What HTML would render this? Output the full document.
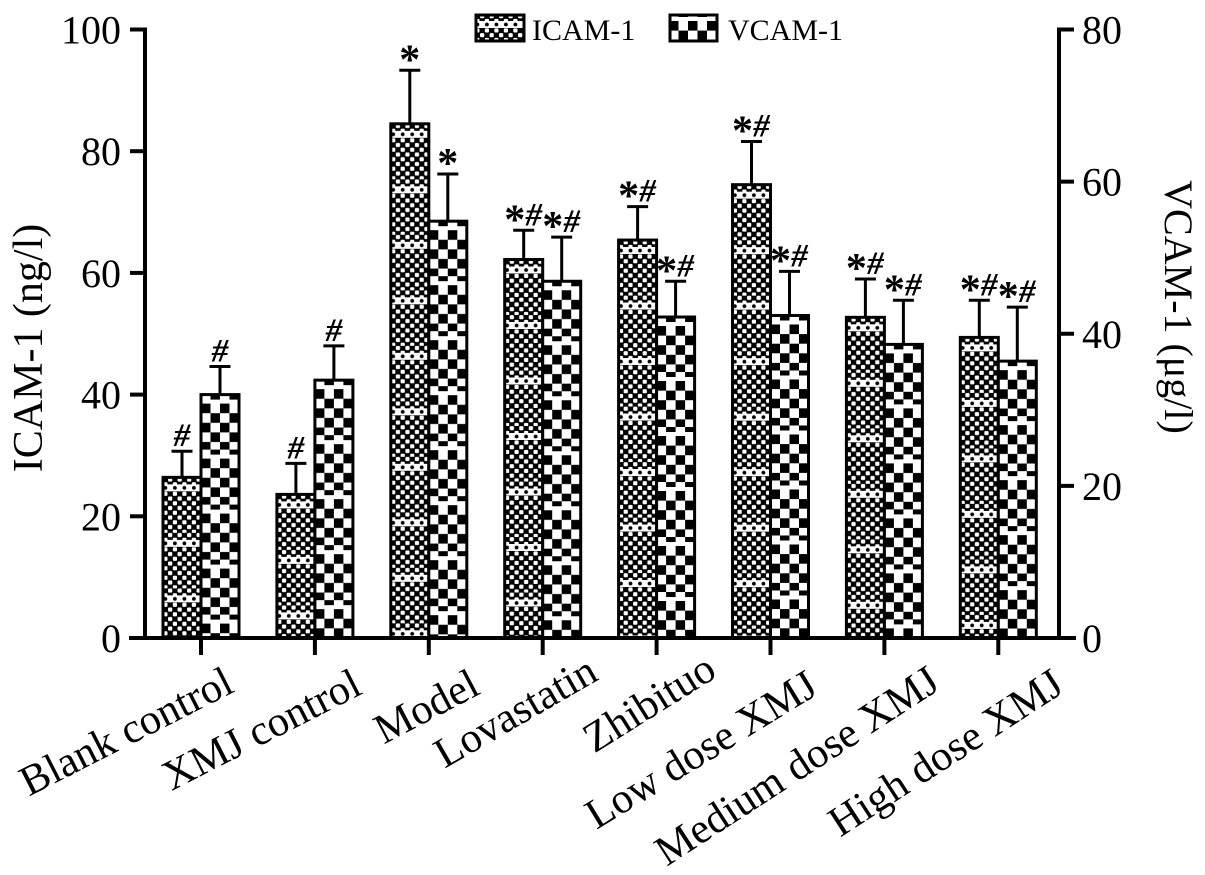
<!DOCTYPE html>
<html lang="en">
<head>
<meta charset="utf-8">
<title>ICAM-1 and VCAM-1 levels</title>
<style>
html,body{margin:0;padding:0;background:#fff;}
svg{display:block;}
text{font-family:"Liberation Serif",serif;fill:#000;}
</style>
</head>
<body>
<svg id="chart" xmlns="http://www.w3.org/2000/svg" width="1205" height="875" viewBox="0 0 1205 875">
<defs id="defs"></defs>
<rect x="0" y="0" width="1205" height="875" fill="#fff"/>
</svg>
<script>
const categories = ['Blank control','XMJ control','Model','Lovastatin','Zhibituo','Low dose XMJ','Medium dose XMJ','High dose XMJ'];
const icamValues = [26.4,23.6,84.5,62.2,65.4,74.5,52.7,49.4];
const icamErrors = [4.3,5.1,8.8,4.8,5.5,7.1,6.3,6.1];
const vcamValues = [32.0,33.9,54.8,46.9,42.2,42.4,38.6,36.4];
const vcamErrors = [3.7,4.5,6.2,5.8,4.7,5.8,5.8,7.1];
const icamMarks = ['#','#','*','*#','*#','*#','*#','*#'];
const vcamMarks = ['#','#','*','*#','*#','*#','*#','*#'];
const leftTicks = [0,20,40,60,80,100];
const rightTicks = [0,20,40,60,80];

const NS = 'http://www.w3.org/2000/svg';
const svg = document.getElementById('chart');
const defs = document.getElementById('defs');

const Y0 = 638, YTOP = 29.5;
const yLeft = v => Y0 - v / 100 * (Y0 - YTOP);
const yRight = v => Y0 - v / 80 * (Y0 - YTOP);
const xBand = i => 201 + i * 113.9;
const BAR_W = 38;

function mk(tag, attrs, parent) {
  const el = document.createElementNS(NS, tag);
  for (const k in attrs) el.setAttribute(k, attrs[k]);
  (parent || svg).appendChild(el);
  return el;
}

function icamPattern(id, x, y) {
  const p = mk('pattern', {id: id, patternUnits: 'userSpaceOnUse', width: 9.5, height: 55.5, patternTransform: 'translate(' + x + ' ' + y + ')'}, defs);
  mk('rect', {x: 0, y: 0, width: 9.5, height: 55.5, fill: '#000'}, p);
  const rh = 4.75;
  for (let r = 0; r < 12; r++) {
    const cy = r * rh + 2.2;
    const off = r % 2 ? 0 : 4.75;
    mk('rect', {x: off + 0.3, y: cy - 2.1, width: 4.2, height: 4.2, rx: 1, fill: '#fff'}, p);
  }
  mk('rect', {x: 0, y: 7, width: 9.5, height: 7, fill: '#fff'}, p);
  mk('circle', {cx: 2.4, cy: 10.5, r: 1.9, fill: '#000'}, p);
}

function vcamPattern(id, x, y) {
  const p = mk('pattern', {id: id, patternUnits: 'userSpaceOnUse', width: 19, height: 55, patternTransform: 'translate(' + x + ' ' + y + ')'}, defs);
  mk('rect', {x: 0, y: 0, width: 19, height: 55, fill: '#fff'}, p);
  for (let r = 0; r < 5; r++) {
    mk('rect', {x: r % 2 ? 9.5 : 0, y: 9 + r * 9.6, width: 9.5, height: 9.6, fill: '#000'}, p);
  }
  mk('rect', {x: 9.5, y: 0, width: 9.5, height: 5, fill: '#000'}, p);
}

function bar(i, side) {
  const isL = side === 'icam';
  const scale = isL ? yLeft : yRight;
  const val = isL ? icamValues[i] : vcamValues[i];
  const err = isL ? icamErrors[i] : vcamErrors[i];
  const mark = isL ? icamMarks[i] : vcamMarks[i];
  const x = isL ? xBand(i) - BAR_W : xBand(i);
  const top = scale(val), errTop = scale(val + err), cx = x + BAR_W / 2;
  const pid = side + '-fill-' + i;
  if (isL) icamPattern(pid, x, top); else vcamPattern(pid, x, top);

  const stem = mk('line', {x1: cx, x2: cx, y1: top, y2: errTop, stroke: '#000', 'stroke-width': 3});
  
  
  const cap = mk('line', {x1: cx - 10.5, x2: cx + 10.5, y1: errTop, y2: errTop, stroke: '#000', 'stroke-width': 3});
  
  
  const r = mk('rect', {x: x, y: top, width: BAR_W, height: Y0 - top, fill: 'url(#' + pid + ')', stroke: '#000', 'stroke-width': 3});
  
  

  const t = mk('text', {'text-anchor': 'middle'});
  
  
  const pair = mark.length > 1;
  for (const ch of mark) {
    const ts = mk('tspan', ch === '*'
      ? {x: pair ? cx - 9 : cx, y: errTop + 3, 'font-size': 42, 'font-weight': 'bold'}
      : {x: pair ? cx + 10 : cx, y: errTop - 5, 'font-size': 33, 'font-weight': 'bold', 'font-style': 'italic'}, t);
    ts.textContent = ch;
  }
}

function drawAxes() {
  const axisAttrs = {stroke: '#000', 'stroke-width': 4, 'stroke-linecap': 'square'};
  const a1 = mk('line', Object.assign({x1: 145, x2: 145, y1: YTOP, y2: Y0}, axisAttrs));
  
  
  const a2 = mk('line', Object.assign({x1: 1059, x2: 1059, y1: YTOP, y2: Y0}, axisAttrs));
  
  
  const a3 = mk('line', Object.assign({x1: 131, x2: 1074, y1: Y0, y2: Y0}, axisAttrs));
  
  

  leftTicks.forEach(v => {
    const y = yLeft(v);
    const tk = mk('line', {x1: 130, x2: 145, y1: y, y2: y, stroke: '#000', 'stroke-width': 4});
    
    
    const tx = mk('text', {x: 121, y: y + 14, 'font-size': 40, 'text-anchor': 'end'});
    
    
    tx.textContent = v;
  });
  rightTicks.forEach(v => {
    const y = yRight(v);
    const tk = mk('line', {x1: 1059, x2: 1074, y1: y, y2: y, stroke: '#000', 'stroke-width': 4});
    
    
    const tx = mk('text', {x: 1082, y: y + 14, 'font-size': 40});
    
    
    tx.textContent = v;
  });
}

function drawCategories() {
  const ends = [[236,691,27],[364,693,27],[482,693,27.7],[600,679,30],[718.5,676,32],[820,693,31.5],[942,688,33],[1066,691,33]];
  categories.forEach((c, i) => {
    const x = xBand(i);
    const tk = mk('line', {x1: x, x2: x, y1: Y0, y2: 655, stroke: '#000', 'stroke-width': 4});
    
    
    const [ex, ey, ang] = ends[i];
    const t = mk('text', {x: 0, y: 0, 'font-size': 42.5, 'text-anchor': 'end', transform: 'translate(' + ex + ' ' + ey + ') rotate(' + (-ang) + ')'});
    
    
    t.textContent = c;
  });
}

function drawTitles() {
  const l = mk('text', {x: 0, y: 0, 'font-size': 42, 'text-anchor': 'middle', transform: 'translate(42 348) rotate(-90)'});
  
  
  l.textContent = 'ICAM-1 (ng/l)';
  const r = mk('text', {x: 0, y: 0, 'font-size': 40, 'text-anchor': 'middle', transform: 'translate(1165 307) rotate(90)'});
  
  
  r.textContent = 'VCAM-1 (μg/l)';
}

function drawLegend() {
  icamPattern('legend-icam-fill', 475, 14);
  vcamPattern('legend-vcam-fill', 669, 12);
  const s1 = mk('rect', {x: 476, y: 15, width: 48, height: 26, fill: 'url(#legend-icam-fill)', stroke: '#000', 'stroke-width': 3});
  
  
  const t1 = mk('text', {x: 532, y: 40, 'font-size': 30});
  
  
  t1.textContent = 'ICAM-1';
  const s2 = mk('rect', {x: 670, y: 15, width: 47, height: 26, fill: 'url(#legend-vcam-fill)', stroke: '#000', 'stroke-width': 3});
  
  
  const t2 = mk('text', {x: 728, y: 40, 'font-size': 30});
  
  
  t2.textContent = 'VCAM-1';
}

categories.forEach((c, i) => { bar(i, 'icam'); bar(i, 'vcam'); });
drawAxes();
drawCategories();
drawTitles();
drawLegend();
</script>
</body>
</html>
